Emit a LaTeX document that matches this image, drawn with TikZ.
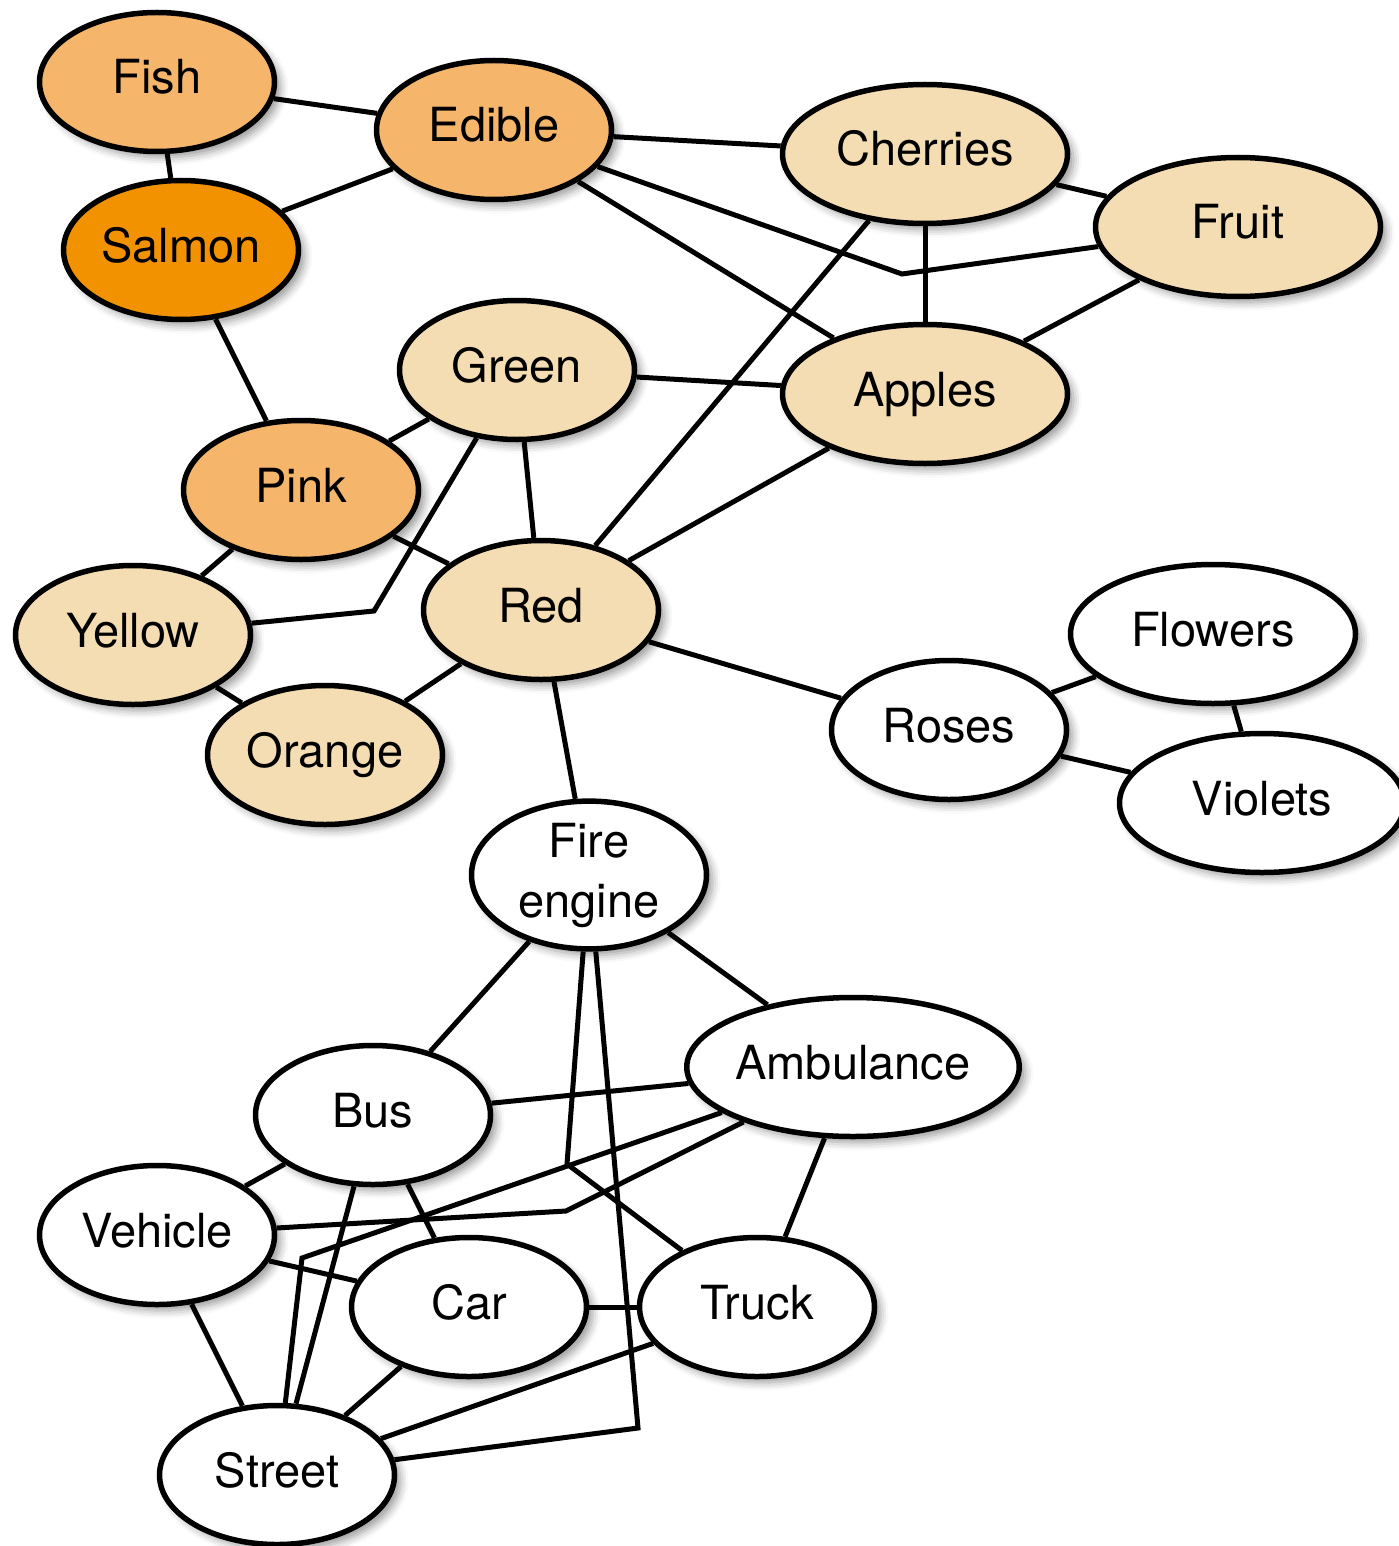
\documentclass[tikz,border=0pt]{standalone}
\usepackage{fontspec}
\setmainfont{TeX Gyre Heros}
\usetikzlibrary{shapes.geometric,shadows.blur}

\definecolor{peach}{HTML}{F5B66B}
\definecolor{deeporange}{HTML}{F39200}
\definecolor{wheat}{HTML}{F5DDB3}

\begin{document}
\begin{tikzpicture}[x=1pt,y=-1pt,
  concept/.style={ellipse, draw=black, line width=5.5pt, inner sep=0pt,
    minimum width=235pt, minimum height=139pt,
    font=\fontsize{47}{60}\selectfont, align=center,
    text height=34pt, text depth=10pt,
    blur shadow={shadow xshift=6pt, shadow yshift=-6pt,
      shadow blur radius=8pt, shadow opacity=40}},
  twoline/.style={text height=, text depth=},
  wide/.style={minimum width=285pt},
  link/.style={line width=5pt, line join=miter}]

\useasboundingbox (0,0) rectangle (1398,1546);

% concept nodes
\node[concept,fill=peach] (fish) at (157,82) {Fish};
\node[concept,fill=peach] (edible) at (494,130) {Edible};
\node[concept,wide,fill=wheat] (cherries) at (925,154) {Cherries};
\node[concept,wide,fill=wheat] (fruit) at (1238,227) {Fruit};
\node[concept,fill=deeporange] (salmon) at (181,250) {Salmon};
\node[concept,fill=wheat] (green) at (517,370) {Green};
\node[concept,wide,fill=wheat] (apples) at (925,394) {Apples};
\node[concept,fill=peach] (pink) at (301,490) {Pink};
\node[concept,fill=wheat] (yellow) at (133,635) {Yellow};
\node[concept,fill=wheat] (red) at (541,610) {Red};
\node[concept,fill=wheat] (orange) at (325,755) {Orange};
\node[concept,wide,fill=white] (flowers) at (1213,634) {Flowers};
\node[concept,fill=white] (roses) at (949,730) {Roses};
\node[concept,wide,fill=white] (violets) at (1262,803) {Violets};
\node[concept,twoline,fill=white] (fire) at (589,875) {Fire\\engine};
\node[concept,fill=white,minimum width=331pt] (ambulance) at (853,1067) {Ambulance};
\node[concept,fill=white] (bus) at (373,1115) {Bus};
\node[concept,fill=white] (vehicle) at (157,1235) {Vehicle};
\node[concept,fill=white] (car) at (469,1307) {Car};
\node[concept,fill=white] (truck) at (757,1307) {Truck};
\node[concept,fill=white] (street) at (277,1475) {Street};

% bend points of the routed links
\coordinate (kEF) at (902,274);
\coordinate (kGY) at (374,611);
\coordinate (kFT) at (567,1164);
\coordinate (kFS) at (638,1428);
\coordinate (kAS) at (302,1258);
\coordinate (kAV) at (566,1211);

% links
\draw[link] (fish) -- (edible);
\draw[link] (fish) -- (salmon);
\draw[link] (salmon) -- (edible);
\draw[link] (edible) -- (cherries);
\draw[link] (edible) -- (kEF) -- (fruit);
\draw[link] (edible) -- (apples);
\draw[link] (cherries) -- (fruit);
\draw[link] (cherries) -- (apples);
\draw[link] (cherries) -- (red);
\draw[link] (fruit) -- (apples);
\draw[link] (green) -- (apples);
\draw[link] (salmon) -- (pink);
\draw[link] (pink) -- (green);
\draw[link] (green) -- (red);
\draw[link] (green) -- (kGY) -- (yellow);
\draw[link] (pink) -- (yellow);
\draw[link] (pink) -- (red);
\draw[link] (red) -- (apples);
\draw[link] (yellow) -- (orange);
\draw[link] (red) -- (orange);
\draw[link] (red) -- (roses);
\draw[link] (red) -- (fire);
\draw[link] (roses) -- (flowers);
\draw[link] (roses) -- (violets);
\draw[link] (flowers) -- (violets);
\draw[link] (fire) -- (bus);
\draw[link] (fire) -- (ambulance);
\draw[link] (fire) -- (kFT) -- (truck);
\draw[link] (fire) -- (kFS) -- (street);
\draw[link] (bus) -- (ambulance);
\draw[link] (ambulance) -- (kAS) -- (street);
\draw[link] (ambulance) -- (kAV) -- (vehicle);
\draw[link] (ambulance) -- (truck);
\draw[link] (bus) -- (vehicle);
\draw[link] (bus) -- (car);
\draw[link] (bus) -- (street);
\draw[link] (vehicle) -- (car);
\draw[link] (vehicle) -- (street);
\draw[link] (car) -- (truck);
\draw[link] (car) -- (street);
\draw[link] (truck) -- (street);
\end{tikzpicture}
\end{document}
